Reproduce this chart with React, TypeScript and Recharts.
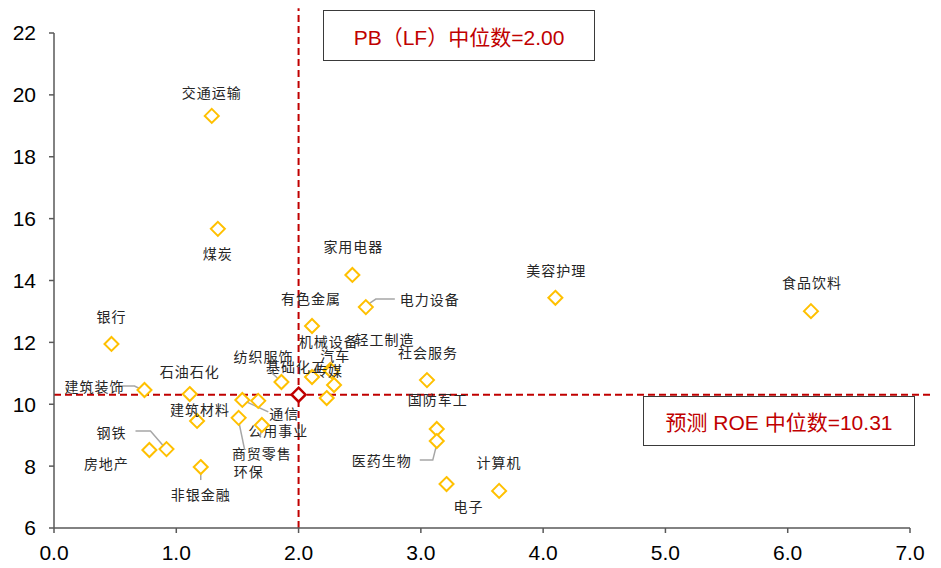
import React from "react";
import { ScatterChart, Scatter, XAxis, YAxis, ReferenceLine } from "recharts";

// 申万一级行业：PB（LF） vs 预测 ROE
const industries = [
  "交通运输", "煤炭", "家用电器", "电力设备", "美容护理", "食品饮料", "银行", "有色金属",
  "机械设备", "汽车", "轻工制造", "传媒", "基础化工", "纺织服饰", "社会服务", "石油石化",
  "建筑装饰", "建筑材料", "通信", "公用事业", "商贸零售", "环保", "国防军工", "医药生物",
  "钢铁", "房地产", "非银金融", "电子", "计算机",
];
const pbValues = [
  1.29, 1.34, 2.44, 2.55, 4.1, 6.19, 0.47, 2.11,
  2.23, 2.26, 2.27, 2.29, 2.11, 1.86, 3.05, 1.11,
  0.74, 1.17, 1.54, 1.67, 1.7, 1.51, 3.13, 3.13,
  0.92, 0.78, 1.2, 3.21, 3.64,
];
const roeValues = [
  19.32, 15.67, 14.18, 13.14, 13.44, 13.01, 11.95, 12.53,
  10.2, 11.11, 11.07, 10.62, 10.88, 10.72, 10.78, 10.33,
  10.46, 9.46, 10.14, 10.11, 9.33, 9.56, 9.2, 8.81,
  8.55, 8.52, 7.97, 7.42, 7.2,
];
const medianPB = 2.0;
const medianROE = 10.31;
const xTicks = [0, 1, 2, 3, 4, 5, 6, 7];
const yTicks = [6, 8, 10, 12, 14, 16, 18, 20, 22];

// label placement relative to each marker: [dx, dy], optional leader polyline
const labelPos: Record<string, { d: [number, number]; leader?: [number, number][] }> = {
  交通运输: { d: [0, -24] },
  煤炭: { d: [0, 24] },
  家用电器: { d: [1, -29] },
  电力设备: { d: [64, -8], leader: [[4, -4], [10, -8], [29, -8]] },
  美容护理: { d: [1, -28] },
  食品饮料: { d: [1, -29] },
  银行: { d: [0, -28] },
  有色金属: { d: [-1, -28] },
  机械设备: { d: [2, -57] },
  汽车: { d: [5, -15] },
  轻工制造: { d: [53, -32] },
  传媒: { d: [-6, -15] },
  基础化工: { d: [-16, -11] },
  纺织服饰: { d: [-18, -26], leader: [[-14, -13], [-4, -4]] },
  社会服务: { d: [1, -28] },
  石油石化: { d: [0, -23] },
  建筑装饰: { d: [-50, -4], leader: [[-25, -4], [-10, -4], [-4, -1]] },
  建筑材料: { d: [3, -12] },
  通信: { d: [42, 13], leader: [[2, 1], [26, 12]] },
  公用事业: { d: [20, 29] },
  商贸零售: { d: [0, 28], leader: [[0, 3], [-2, 12]] },
  环保: { d: [10, 53], leader: [[0, 3], [6, 32]] },
  国防军工: { d: [1, -30] },
  医药生物: { d: [-55, 19], leader: [[0, 3], [-4, 19], [-17, 19]] },
  钢铁: { d: [-55, -17], leader: [[-31, -18], [-16, -18], [-3, -3]] },
  房地产: { d: [-43, 13] },
  非银金融: { d: [0, 27], leader: [[0, 3], [0, 13]] },
  电子: { d: [22, 22] },
  计算机: { d: [0, -29] },
};

const points = industries.map((name, i) => ({ name, pb: pbValues[i], roe: roeValues[i] }));
const medianPoint = [{ name: "中位数", pb: medianPB, roe: medianROE }];

const RED = "#C00000";
const GOLD = "#FFC000";
const AXIS = "#595959";
const NUM_FONT = "'Liberation Sans', Arial, sans-serif";
const CJK_FONT = "'Noto Sans CJK SC', sans-serif";

const diamond = (cx: number, cy: number, r: number) =>
  `M${cx},${cy - r} L${cx + r},${cy} L${cx},${cy + r} L${cx - r},${cy} Z`;

function IndustryPoint(props: any) {
  const { cx, cy, payload } = props;
  const pos = labelPos[payload.name] || { d: [0, -25] };
  return (
    <g>
      {pos.leader && (
        <polyline
          points={pos.leader.map(([dx, dy]) => `${cx + dx},${cy + dy}`).join(" ")}
          fill="none"
          stroke="#A6A6A6"
          strokeWidth={1.5}
        />
      )}
      <path d={diamond(cx, cy, 7)} fill="#fff" stroke={GOLD} strokeWidth={2} />
      <text
        x={cx + pos.d[0]}
        y={cy + pos.d[1]}
        textAnchor="middle"
        dominantBaseline="central"
        fontSize={14}
        fontFamily={CJK_FONT}
        fill="#262626"
        letterSpacing={1}
      >
        {payload.name}
      </text>
    </g>
  );
}

function MedianPoint(props: any) {
  const { cx, cy } = props;
  return <path d={diamond(cx, cy, 7)} fill="#fff" stroke={RED} strokeWidth={2.5} />;
}

const boxStyle: React.CSSProperties = {
  position: "absolute",
  background: "#fff",
  border: "1.5px solid #3a3a3a",
  color: RED,
  fontSize: 21,
  fontFamily: `'Liberation Sans', Arial, ${CJK_FONT}`,
  display: "flex",
  alignItems: "center",
  justifyContent: "center",
  boxSizing: "border-box",
};

export default function App() {
  return (
    <div style={{ position: "relative", width: 933, height: 560 }}>
      <ScatterChart width={933} height={560} margin={{ top: 25, right: 31, left: 0, bottom: 5 }}>
        <XAxis
          type="number"
          dataKey="pb"
          domain={[0, 7]}
          ticks={xTicks}
          allowDataOverflow
          tickFormatter={(v: number) => v.toFixed(1)}
          height={35}
          stroke={AXIS}
          strokeWidth={1.5}
          tickSize={5}
          tickMargin={12}
          tick={{ fill: "#000", fontSize: 21, fontFamily: NUM_FONT }}
        />
        <YAxis
          type="number"
          dataKey="roe"
          domain={[6, 22]}
          ticks={yTicks}
          allowDataOverflow
          width={46}
          stroke={AXIS}
          strokeWidth={1.5}
          tickSize={5}
          tickMargin={13}
          tick={{ fill: "#000", fontSize: 21, fontFamily: NUM_FONT }}
        />
        <ReferenceLine
          segment={[{ x: medianPB, y: 6 }, { x: medianPB, y: 22.8 }]}
          stroke={RED}
          strokeWidth={2}
          strokeDasharray="7 4"
          ifOverflow="visible"
        />
        <ReferenceLine
          segment={[{ x: 0, y: medianROE }, { x: 7.2, y: medianROE }]}
          stroke={RED}
          strokeWidth={2}
          strokeDasharray="7 4"
          ifOverflow="visible"
        />
        <Scatter data={points} shape={IndustryPoint} isAnimationActive={false} />
        <Scatter data={medianPoint} shape={MedianPoint} isAnimationActive={false} />
      </ScatterChart>
      <div style={{ ...boxStyle, left: 315, top: 2, width: 272, height: 51 }}>PB（LF）中位数=2.00</div>
      <div style={{ ...boxStyle, left: 635, top: 388, width: 272, height: 50 }}>预测 ROE 中位数=10.31</div>
    </div>
  );
}
